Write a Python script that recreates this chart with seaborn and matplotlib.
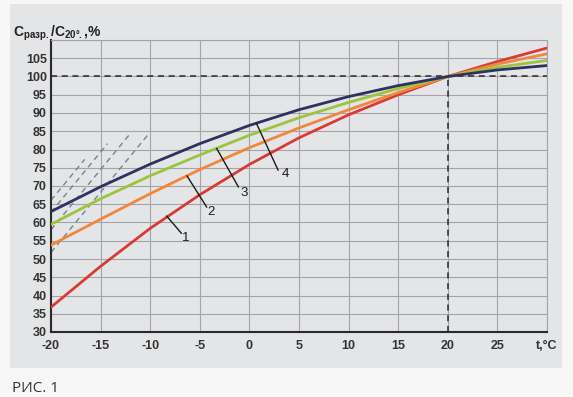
import matplotlib
matplotlib.use("Agg")
import matplotlib.pyplot as plt
from matplotlib.patches import Rectangle
import seaborn as sns
import pandas as pd

# ---- data ----
temps = [-20, -15, -10, -5, 0, 5, 10, 15, 20, 25, 30]
curve1 = [36.8, 48.0, 58.4, 67.6, 75.9, 83.2, 89.5, 95.0, 100, 104.1, 107.8]
curve2 = [53.8, 60.9, 67.9, 74.5, 80.5, 85.9, 90.9, 95.6, 100, 103.4, 106.2]
curve3 = [59.5, 66.5, 72.8, 78.5, 83.9, 88.7, 92.9, 96.7, 100, 102.5, 104.4]
curve4 = [63.0, 69.8, 76.0, 81.6, 86.6, 90.9, 94.5, 97.5, 100, 101.8, 103.0]
curve_names = ["1", "2", "3", "4"]
curve_colors = ["#d93a36", "#f0873a", "#9cc43e", "#2f3160"]

x_ticks = [-20, -15, -10, -5, 0, 5, 10, 15, 20, 25, 30]
x_tick_labels = ["-20", "-15", "-10", "-5", "0", "5", "10", "15", "20", "25", "t,°C"]
y_ticks = [30, 35, 40, 45, 50, 55, 60, 65, 70, 75, 80, 85, 90, 95, 100, 105, 110]
y_tick_labels = [str(v) for v in y_ticks[:-1]] + [""]

# leader lines: start on curve -> end, and label position
leader_start = [(-8.35, 61.8), (-6.3, 72.8), (-3.3, 80.3), (0.7, 87.2)]
leader_end = [(-6.84, 57.0), (-4.3, 64.2), (-1.1, 69.7), (2.9, 74.3)]
label_pos = [(-6.45, 55.8), (-3.85, 63.0), (-0.55, 68.2), (3.65, 73.3)]

# dashed hatch lines (lower-left end, upper-right end)
hatch_start = [(-20, 51.8), (-20, 58.0), (-20, 62.8), (-20, 66.1)]
hatch_end = [(-10.3, 83.8), (-12.0, 84.4), (-14.3, 81.6), (-16.6, 77.3)]

ref_level = 100
ref_temp = 20

# ---- build long-form table ----
df = pd.DataFrame({
    "t": temps * 4,
    "v": curve1 + curve2 + curve3 + curve4,
    "curve": sum([[n] * len(temps) for n in curve_names], []),
})

sns.set_theme(style="white")
plt.rcParams["font.family"] = ["Liberation Sans", "DejaVu Sans"]
plt.rcParams["mathtext.fontset"] = "custom"
plt.rcParams["mathtext.rm"] = "Liberation Sans"
plt.rcParams["mathtext.bf"] = "Liberation Sans:bold"

W, H = 573, 397
fig = plt.figure(figsize=(W / 100, H / 100), dpi=100)
fig.patch.set_facecolor("#f7f7f7")
fig.patches.append(Rectangle((10 / W, (H - 368) / H), (562 - 10) / W, (368 - 4) / H,
                             transform=fig.transFigure, facecolor="#e4e5e7",
                             edgecolor="none", zorder=-10))

ax = fig.add_axes([51 / W, (H - 332) / H, (547 - 51) / W, (332 - 40) / H])
ax.set_facecolor("#e4e5e7")

ax.set_xlim(-20, 30)
ax.set_ylim(30, 110)
ax.set_xticks(x_ticks)
ax.set_xticklabels(x_tick_labels, fontweight="bold")
ax.set_yticks(y_ticks)
ax.set_yticklabels(y_tick_labels, fontweight="bold")
ax.grid(True, color="#a4a4a6", linewidth=0.8, zorder=0)
ax.set_axisbelow(True)
ax.tick_params(axis="both", length=0, labelsize=9, labelcolor="#333333")
ax.tick_params(axis="x", pad=6)
ax.tick_params(axis="y", pad=3)

for s in ["top", "right"]:
    ax.spines[s].set_color("#a4a4a6")
    ax.spines[s].set_linewidth(0.8)
for s in ["left", "bottom"]:
    ax.spines[s].set_color("#2a2a2a")
    ax.spines[s].set_linewidth(1.5)

# hatch lines
for (x0, y0), (x1, y1) in zip(hatch_start, hatch_end):
    ax.plot([x0, x1], [y0, y1], color="#6a8990", linewidth=1.0,
            dashes=(4, 3), zorder=2)

# reference dashed lines
ax.plot([-20, 30], [ref_level, ref_level], color="#2a2a2a", linewidth=1.1,
        dashes=(4, 3), zorder=2)
ax.plot([ref_temp, ref_temp], [30, ref_level], color="#2a2a2a", linewidth=1.1,
        dashes=(4, 3), zorder=2)

sns.lineplot(data=df, x="t", y="v", hue="curve", palette=curve_colors,
             linewidth=2.0, legend=False, ax=ax, zorder=3)
for ln in ax.get_lines():
    ln.set_solid_joinstyle("round")
ax.set_xlabel("")
ax.set_ylabel("")

# leader lines and numbers
for (x0, y0), (x1, y1), (lx, ly), name in zip(leader_start, leader_end, label_pos, curve_names):
    ax.plot([x0, x1], [y0, y1], color="#1a1a1a", linewidth=1.0, zorder=4)
    ax.text(lx, ly, name, fontsize=9.5, color="#1a1a1a", ha="center", va="center", zorder=5)

# axis title
fig.text(13 / W, (H - 37) / H,
         r"$\mathbf{C}_{\mathbf{разр.}}$/$\mathbf{C}_{\mathbf{20°.}}$,%",
         fontsize=10, fontweight="bold", color="#222222", ha="left", va="baseline")

# caption
fig.text(12 / W, (H - 392) / H, "РИС. 1", fontsize=11, color="#333333",
         ha="left", va="baseline", family=["Open Sans", "DejaVu Sans"])

fig.savefig("out.png", dpi=100, facecolor=fig.get_facecolor())
